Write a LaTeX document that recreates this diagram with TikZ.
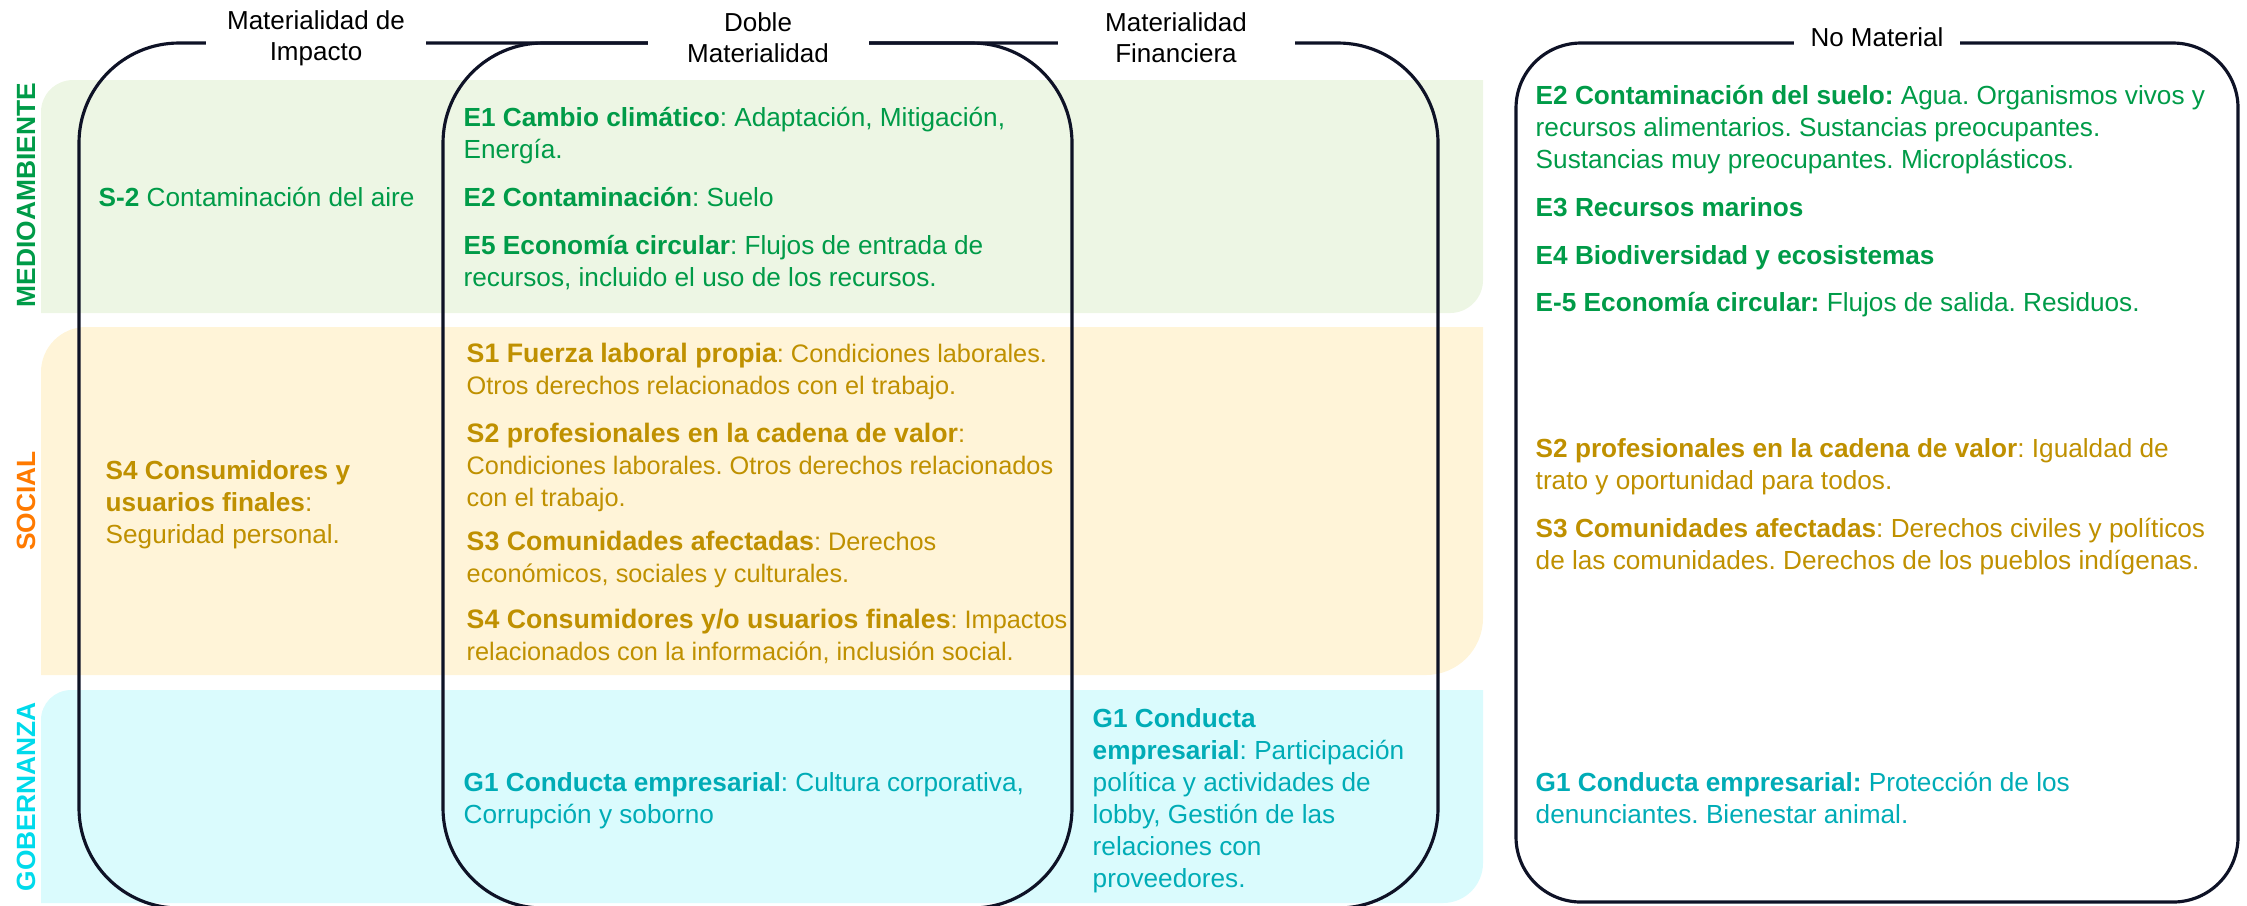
\documentclass[tikz,border=0pt]{standalone}
\usepackage{fontspec}
\setmainfont{Liberation Sans}
\usetikzlibrary{positioning}

\definecolor{envgreen}{RGB}{0, 155, 72}
\definecolor{socgold}{RGB}{191, 144, 0}
\definecolor{socorange}{RGB}{255, 122, 0}
\definecolor{govteal}{RGB}{0, 172, 182}
\definecolor{govcyan}{RGB}{0, 218, 235}
\definecolor{envfill}{RGB}{237, 246, 228}
\definecolor{socfill}{RGB}{255, 244, 216}
\definecolor{govfill}{RGB}{218, 251, 253}
\definecolor{boxline}{RGB}{14, 18, 38}

\newcommand{\bighead}[1]{{\fontsize{7.6}{9.1}\selectfont\bfseries #1}}

\tikzset{
  itemtxt/.style={anchor=base west, inner sep=0pt, align=left, font=\fontsize{7.45}{9.1}\selectfont\frenchspacing},
  socitem/.style={itemtxt, text=socgold, font=\fontsize{7.2}{9.1}\selectfont\frenchspacing},
  headlbl/.style={fill=white, inner sep=0pt, align=center, font=\fontsize{7.4}{8.8}\selectfont},
  sidelbl/.style={rotate=90, inner sep=0pt, font=\fontsize{7.5}{8.8}\selectfont\bfseries},
  matbox/.style={draw=boxline, line width=0.9pt},
}

\begin{document}
\begin{tikzpicture}
  \useasboundingbox (0,0) rectangle (22.47,-9.05);

  % Bands
  \fill[envfill] (0.41,-3.13) [rounded corners=0.32cm] -- (0.41,-0.80) [sharp corners] -- (14.83,-0.80) [rounded corners=0.33cm] -- (14.83,-3.13) [sharp corners] -- cycle;
  \fill[socfill] (0.41,-6.75) [rounded corners=0.45cm] -- (0.41,-3.27) [sharp corners] -- (14.83,-3.27) [rounded corners=0.57cm] -- (14.83,-6.75) [sharp corners] -- cycle;
  \fill[govfill] (0.41,-9.03) [rounded corners=0.30cm] -- (0.41,-6.90) [sharp corners] -- (14.83,-6.90) [rounded corners=0.40cm] -- (14.83,-9.03) [sharp corners] -- cycle;

  % Band labels
  \node[sidelbl, text=envgreen] (medio) at (0.26,-1.95) {MEDIOAMBIENTE};
  \node[sidelbl, text=socorange] (social) at (0.26,-5.01) {SOCIAL};
  \node[sidelbl, text=govcyan] (gober) at (0.26,-7.97) {GOBERNANZA};

  % Materiality boxes
  \draw[matbox, rounded corners=1cm] (0.79,-0.43) rectangle (10.72,-9.08);
  \draw[matbox, rounded corners=1cm] (4.43,-0.43) rectangle (14.38,-9.08);
  \draw[matbox, rounded corners=0.65cm] (15.16,-0.43) rectangle (22.38,-9.02);

  % Box titles
  \node[headlbl, minimum width=2.2cm] (impT) at (3.16,-0.38) {Materialidad de\\Impacto};
  \node[headlbl, minimum width=2.21cm] (dobT) at (7.58,-0.38) {Doble\\Materialidad};
  \node[headlbl, minimum width=2.37cm] (finT) at (11.76,-0.38) {Materialidad\\Financiera};
  \node[headlbl, minimum width=1.66cm] (nomT) at (18.77,-0.37) {No Material};

  % Medioambiente (anchor = last line)
  \node[itemtxt, text=envgreen] (s2imp) at (0.98,-2.06) {\textbf{S-2} Contaminación del aire};
  \node[itemtxt, text=envgreen] (e1dob) at (4.63,-1.58) {\textbf{E1 Cambio climático}: Adaptación, Mitigación,\\Energía.};
  \node[itemtxt, text=envgreen] (e2dob) at (4.63,-2.06) {\textbf{E2 Contaminación}: Suelo};
  \node[itemtxt, text=envgreen] (e5dob) at (4.63,-2.86) {\textbf{E5 Economía circular}: Flujos de entrada de\\recursos, incluido el uso de los recursos.};
  \node[itemtxt, text=envgreen] (e2nom) at (15.35,-1.68) {\textbf{E2 Contaminación del suelo:} Agua. Organismos vivos y\\recursos alimentarios. Sustancias preocupantes.\\Sustancias muy preocupantes. Microplásticos.};
  \node[itemtxt, text=envgreen] (e3nom) at (15.35,-2.16) {\textbf{E3 Recursos marinos}};
  \node[itemtxt, text=envgreen] (e4nom) at (15.35,-2.64) {\textbf{E4 Biodiversidad y ecosistemas}};
  \node[itemtxt, text=envgreen] (e5nom) at (15.35,-3.11) {\textbf{E-5 Economía circular:} Flujos de salida. Residuos.};

  % Social
  \node[itemtxt, text=socgold] (s4imp) at (1.05,-5.43) {\textbf{S4 Consumidores y}\\\textbf{usuarios finales}:\\Seguridad personal.};
  \node[socitem] (s1dob) at (4.66,-3.94) {\bighead{S1 Fuerza laboral propia}: Condiciones laborales.\\Otros derechos relacionados con el trabajo.};
  \node[socitem] (s2dob) at (4.66,-5.06) {\bighead{S2 profesionales en la cadena de valor}:\\Condiciones laborales. Otros derechos relacionados\\con el trabajo.};
  \node[socitem] (s3dob) at (4.66,-5.82) {\bighead{S3 Comunidades afectadas}: Derechos\\económicos, sociales y culturales.};
  \node[socitem] (s4dob) at (4.66,-6.60) {\bighead{S4 Consumidores y/o usuarios finales}: Impactos\\relacionados con la información, inclusión social.};
  \node[itemtxt, text=socgold] (s2nom) at (15.35,-4.89) {\textbf{S2 profesionales en la cadena de valor}: Igualdad de\\trato y oportunidad para todos.};
  \node[itemtxt, text=socgold] (s3nom) at (15.35,-5.69) {\textbf{S3 Comunidades afectadas}: Derechos civiles y políticos\\de las comunidades. Derechos de los pueblos indígenas.};

  % Gobernanza
  \node[itemtxt, text=govteal] (g1dob) at (4.63,-8.23) {\textbf{G1 Conducta empresarial}: Cultura corporativa,\\Corrupción y soborno};
  \node[itemtxt, text=govteal] (g1fin) at (10.92,-8.87) {\textbf{G1 Conducta}\\\textbf{empresarial}: Participación\\política y actividades de\\lobby, Gestión de las\\relaciones con\\proveedores.};
  \node[itemtxt, text=govteal] (g1nom) at (15.35,-8.23) {\textbf{G1 Conducta empresarial:} Protección de los\\denunciantes. Bienestar animal.};
\end{tikzpicture}
\end{document}
